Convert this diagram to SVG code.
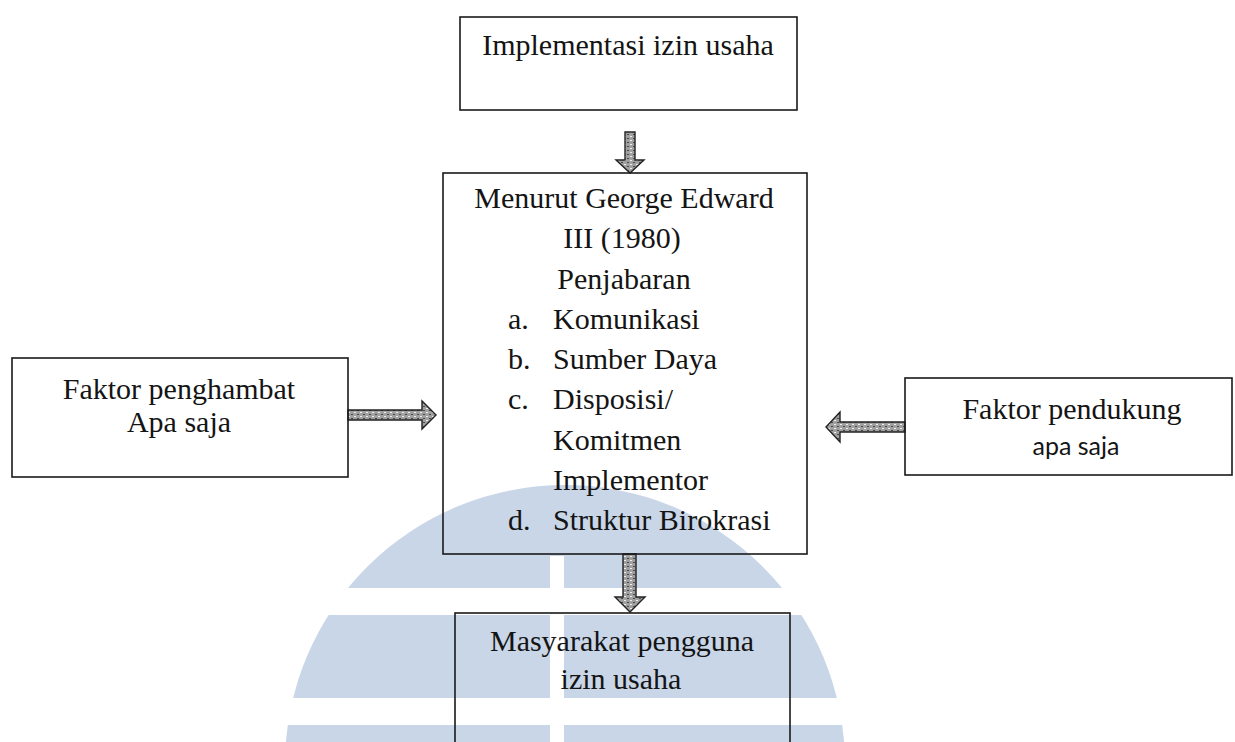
<svg xmlns="http://www.w3.org/2000/svg" width="1235" height="742" viewBox="0 0 1235 742">
  <defs>
    <style>
      .box { fill: none; stroke: #1a1a1a; stroke-width: 1.6; }
      .t { font-family: "Liberation Serif", "Times New Roman", serif; font-size: 30px; fill: #141414; }
      .c { text-anchor: middle; }
      .s { font-family: Lato, "Open Sans", sans-serif; font-size: 25px; fill: #141414; }
      .arrow { fill: url(#grain); stroke: #222; stroke-width: 1.4; stroke-linejoin: miter; }
    </style>
    <pattern id="grain" width="6" height="4" patternUnits="userSpaceOnUse">
      <rect width="6" height="4" fill="#a0a0a0"/>
      <rect x="0" y="0" width="2" height="1" fill="#eeeeee"/>
      <rect x="3" y="2" width="2" height="1" fill="#4a4a4a"/>
    </pattern>
    <clipPath id="dome">
      <circle cx="565" cy="765" r="280"/>
    </clipPath>
  </defs>

  <rect width="1235" height="742" fill="#ffffff"/>

  <g id="watermark" clip-path="url(#dome)" fill="#c9d6e8">
    <rect x="280" y="480" width="570" height="108"/>
    <rect x="280" y="615" width="570" height="83"/>
    <rect x="280" y="725" width="570" height="20"/>
    <rect x="550" y="556" width="14" height="190" fill="#ffffff"/>
  </g>

  <g id="connectors">
    <path class="arrow" d="M625,132 H635 V160 H644 L630,173 L616,160 H625 Z"/>
    <path class="arrow" d="M348,410 H422 V401 L436,415 L422,429 V420 H348 Z"/>
    <path class="arrow" d="M905,422 H840 V412 L826,427 L840,442 V432 H905 Z"/>
    <path class="arrow" d="M623,554 H636 V597 H645 L630,612 L615,597 H623 Z"/>
  </g>

  <g id="node-implementasi">
    <rect class="box" x="460" y="17" width="337" height="93"/>
    <text class="t c" x="628" y="55">Implementasi izin usaha</text>
  </g>

  <g id="node-edward">
    <rect class="box" x="443" y="173" width="364" height="381"/>
    <text class="t c" x="624" y="208">Menurut George Edward</text>
    <text class="t c" x="622" y="248">III (1980)</text>
    <text class="t c" x="624" y="288.5">Penjabaran</text>
    <text class="t" x="508" y="329">a.</text>
    <text class="t" x="553" y="329">Komunikasi</text>
    <text class="t" x="508" y="369">b.</text>
    <text class="t" x="553" y="369">Sumber Daya</text>
    <text class="t" x="508" y="409">c.</text>
    <text class="t" x="553" y="409">Disposisi/</text>
    <text class="t" x="553" y="449.5">Komitmen</text>
    <text class="t" x="553" y="490">Implementor</text>
    <text class="t" x="508" y="530">d.</text>
    <text class="t" x="553" y="530">Struktur Birokrasi</text>
  </g>

  <g id="node-penghambat">
    <rect class="box" x="12" y="358" width="336" height="119"/>
    <text class="t c" x="179" y="399">Faktor penghambat</text>
    <text class="t c" x="179" y="432">Apa saja</text>
  </g>

  <g id="node-pendukung">
    <rect class="box" x="905" y="378" width="327" height="97"/>
    <text class="t c" x="1072" y="419">Faktor pendukung</text>
    <text class="s c" x="1076" y="455">apa saja</text>
  </g>

  <g id="node-masyarakat">
    <rect class="box" x="455" y="613" width="335" height="140"/>
    <text class="t c" x="622" y="651">Masyarakat pengguna</text>
    <text class="t c" x="621" y="689">izin usaha</text>
  </g>
</svg>
